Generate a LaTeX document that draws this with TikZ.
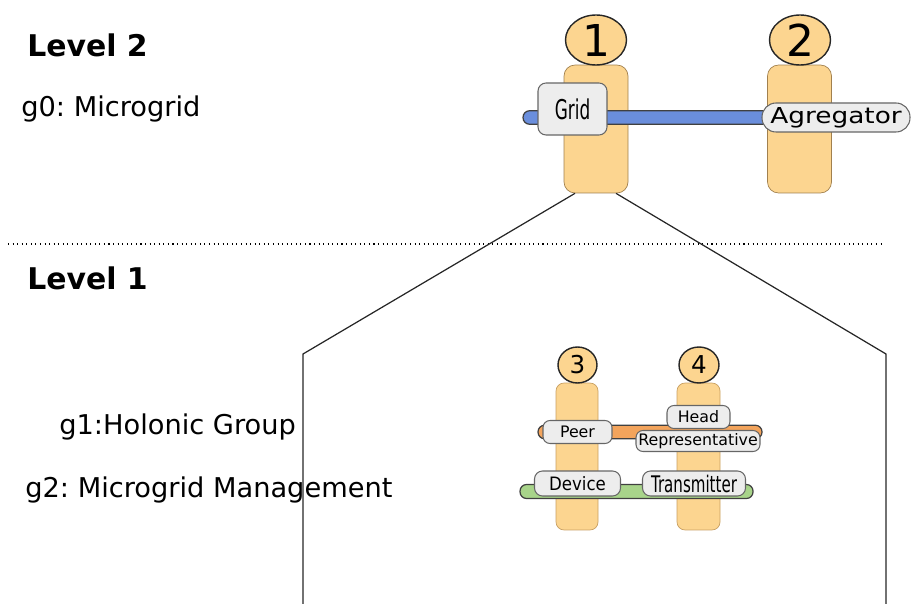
\documentclass[tikz,border=0pt]{standalone}
\usepackage{fontspec}
\setmainfont{DejaVu Sans}
\usepackage{tikz}
\usetikzlibrary{shapes.geometric}
\usepackage{xcolor}
\definecolor{holonfill}{HTML}{FCD590}
\definecolor{holonline}{HTML}{C9A062}
\definecolor{gridblue}{HTML}{6A8EDC}
\definecolor{holonorange}{HTML}{F3A45C}
\definecolor{mgmtgreen}{HTML}{A8D48A}
\definecolor{rolefill}{HTML}{EDEDED}
\frenchspacing
\newcommand{\squeezed}[2]{\scalebox{#1}[1]{#2}}
\tikzstyle{holon}=[draw=holonline,fill=holonfill,rounded corners=0.22cm,inner sep=0]
\tikzstyle{holonhead}=[ellipse,draw=black!85,fill=holonfill,inner sep=0,line width=0.8pt]
\tikzstyle{bar}=[draw=black!75,inner sep=0,line width=0.7pt]
\tikzstyle{role}=[draw=black!60,fill=rolefill,rounded corners=0.16cm,inner sep=0,line width=0.6pt]
\tikzstyle{lbl}=[anchor=base west,inner sep=0]

\begin{document}
\begin{tikzpicture}[x=0.02cm,y=-0.02cm]
\useasboundingbox (0,0) rectangle (913,604);

\node[lbl,font=\fontsize{17}{17}\selectfont\bfseries] (lvltwo) at (27,57) {Level 2};
\node[lbl,font=\fontsize{15.5}{15.5}\selectfont] (gzero) at (21,117) {g0: Microgrid};
\draw[dotted,line width=0.6pt] (8,244) coordinate (sepl) -- (883,244) coordinate (sepr);
\node[lbl,font=\fontsize{17}{17}\selectfont\bfseries] (lvlone) at (27,290) {Level 1};
\node[lbl,font=\fontsize{15.5}{15.5}\selectfont] (gone) at (59,435) {g1:Holonic Group};
\node[lbl,font=\fontsize{15.5}{15.5}\selectfont] (gtwo) at (25,498) {g2: Microgrid Management};

\node[holon,draw=holonline!80!black,minimum width=1.28cm,minimum height=2.56cm] (body1) at (596,129) {};
\node[holon,draw=holonline!80!black,minimum width=1.28cm,minimum height=2.56cm] (body2) at (799.5,129) {};
\node[holonhead,minimum width=1.22cm,minimum height=1.0cm,font=\fontsize{25}{25}\selectfont] (head1) at (596,40) {1};
\node[holonhead,minimum width=1.22cm,minimum height=1.0cm,font=\fontsize{25}{25}\selectfont] (head2) at (800,40) {2};
\node[bar,fill=gridblue,rounded corners=0.13cm,minimum width=4.94cm,minimum height=0.27cm] (gridbar) at (646.5,117.5) {};
\node[role,minimum width=1.38cm,minimum height=1.04cm,font=\fontsize{15.5}{15.5}\selectfont] (grid) at (572.5,109) {\squeezed{0.62}{Grid}};
\node[role,rounded corners=0.28cm,minimum width=2.96cm,minimum height=0.58cm,font=\fontsize{12.5}{12.5}\selectfont] (agreg) at (836,117.5) {\squeezed{1.2}{Agregator}};

\coordinate (boxl) at (303,354);
\coordinate (boxr) at (886,354);
\coordinate (boxlb) at (303,604);
\coordinate (boxrb) at (886,604);
\draw[line width=0.7pt,black!85] ([xshift=-0.42cm]body1.south) -- (boxl) -- (boxlb);
\draw[line width=0.7pt,black!85] ([xshift=0.4cm]body1.south) -- (boxr) -- (boxrb);

\node[holon,rounded corners=0.16cm,minimum width=0.84cm,minimum height=2.94cm] (body3) at (577,456.5) {};
\node[holon,rounded corners=0.16cm,minimum width=0.86cm,minimum height=2.94cm] (body4) at (698.5,456.5) {};
\node[holonhead,minimum width=0.78cm,minimum height=0.72cm,font=\fontsize{14}{14}\selectfont] (head3) at (577.5,365) {3};
\node[holonhead,minimum width=0.8cm,minimum height=0.72cm,font=\fontsize{14}{14}\selectfont] (head4) at (699,365) {4};
\node[bar,fill=holonorange,rounded corners=0.13cm,minimum width=4.48cm,minimum height=0.27cm] (holonbar) at (650,432) {};
\node[bar,fill=mgmtgreen,rounded corners=0.13cm,minimum width=4.66cm,minimum height=0.28cm] (mgmtbar) at (636.5,491.5) {};
\node[role,rounded corners=0.14cm,minimum width=1.38cm,minimum height=0.46cm,font=\fontsize{9}{9}\selectfont] (peer) at (577.5,432) {Peer};
\node[role,rounded corners=0.14cm,minimum width=1.26cm,minimum height=0.46cm,font=\fontsize{9}{9}\selectfont] (headrole) at (698.5,417) {Head};
\node[role,rounded corners=0.14cm,minimum width=2.48cm,minimum height=0.42cm,font=\fontsize{9}{9}\selectfont] (repr) at (698,441) {Representative};
\node[role,rounded corners=0.16cm,minimum width=1.72cm,minimum height=0.5cm,font=\fontsize{10.5}{10.5}\selectfont] (device) at (577.5,483.5) {\squeezed{0.9}{Device}};
\node[role,rounded corners=0.16cm,minimum width=2.06cm,minimum height=0.5cm,font=\fontsize{13}{13}\selectfont] (transm) at (694,483.5) {\squeezed{0.66}{Transmitter}};
\end{tikzpicture}
\end{document}
